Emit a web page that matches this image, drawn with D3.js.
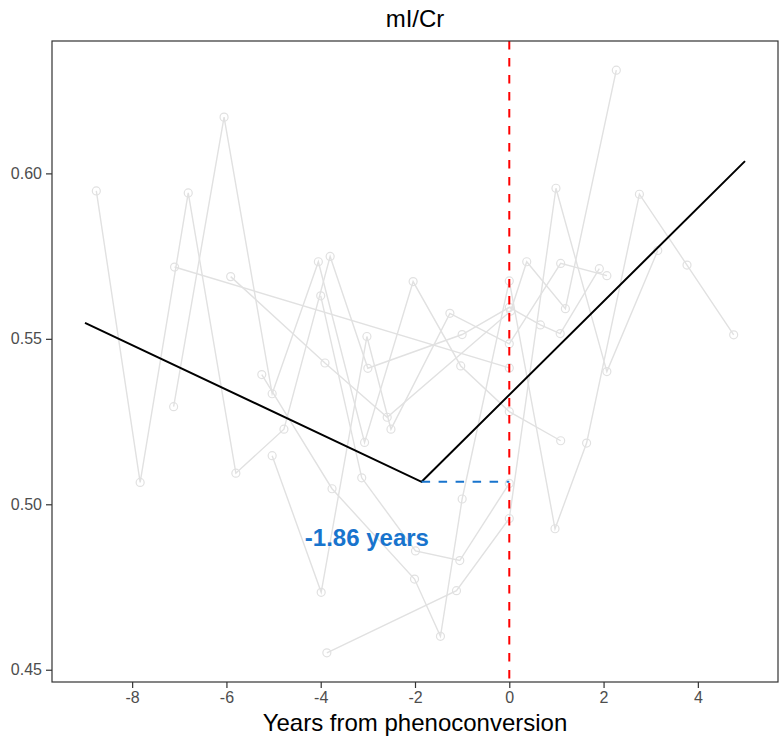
<!DOCTYPE html>
<html><head><meta charset="utf-8">
<script src="https://cdn.jsdelivr.net/npm/d3@7"></script>
<style>
body{margin:0;background:#fff;}
text{font-family:"Liberation Sans",Arial,Helvetica,sans-serif;}
</style>
</head><body>
<svg id="chart" width="780" height="743"></svg>
<script>
// ---------------- data ----------------
const chartTitle = "mI/Cr";
const xAxisTitle = "Years from phenoconversion";
const xTicks = [-8, -6, -4, -2, 0, 2, 4];
const xTickLabels = ["-8", "-6", "-4", "-2", "0", "2", "4"];
const yTicks = [0.45, 0.50, 0.55, 0.60];
const yTickLabels = ["0.45", "0.50", "0.55", "0.60"];

// individual trajectories (time from phenoconversion, mI/Cr)
const subjectIds = ["S1", "S2", "S3", "S4", "S5", "S6", "S7", "S8"];
const subjectTimes = [
  [-8.76, -7.83, -6.81, -5.80, -4.78, -3.80, -3.00, -1.00, 0.00, 0.66, 1.08, 1.91],
  [-7.12, -6.05, -5.03, -4.05, -3.07, -2.04, -1.03, 0.00, 1.09],
  [-5.91, -3.91, -2.59, 0.03, 0.37, 1.19, 2.27],
  [-4.00, -3.13, -1.99, -1.05, 0.00],
  [-5.25, -3.76, -2.01, -1.46, -1.00, 0.00, 0.97, 1.64, 2.76, 3.77, 4.76],
  [-5.03, -3.99, -3.02, -2.51, -1.26, 0.00, 1.09, 2.07],
  [-3.87, -1.12, 0.00, 0.99, 2.07, 3.15],
  [-7.10, 0.00]
];
const subjectValues = [
  [0.5947, 0.5066, 0.5941, 0.5094, 0.5227, 0.5749, 0.5411, 0.5513, 0.5595, 0.5542, 0.5516, 0.5712],
  [0.5295, 0.6170, 0.5334, 0.5733, 0.5187, 0.5673, 0.5418, 0.5280, 0.5192],
  [0.5688, 0.5427, 0.5263, 0.5584, 0.5733, 0.5591, 0.6312],
  [0.5630, 0.5080, 0.4859, 0.4830, 0.5063],
  [0.5392, 0.5047, 0.4774, 0.4601, 0.5016, 0.5675, 0.4926, 0.5185, 0.5937, 0.5723, 0.5512],
  [0.5147, 0.4734, 0.5507, 0.5227, 0.5577, 0.5485, 0.5728, 0.5691],
  [0.4551, 0.4739, 0.4957, 0.5955, 0.5401, 0.5767],
  [0.5717, 0.5412]
];

// piecewise-linear fit
const fitTimes = [-9.0, -1.86, 5.0];
const fitValues = [0.5548, 0.5068, 0.6037];
const changePoint = -1.86;
const changeLabel = "-1.86 years";
const labelPos = [-3.02, 0.4893];

// ---------------- layout ----------------
const W = 780, H = 743;
const panel = {left: 52, top: 41, right: 778, bottom: 682};

const allT = subjectTimes.flat().concat(fitTimes);
const allV = subjectValues.flat().concat(fitValues);
function expand(ext) { const r = ext[1] - ext[0]; return [ext[0] - 0.05 * r, ext[1] + 0.05 * r]; }

const x = d3.scaleLinear().domain(expand(d3.extent(allT))).range([panel.left, panel.right]);
const y = d3.scaleLinear().domain(expand(d3.extent(allV))).range([panel.bottom, panel.top]);

const svg = d3.select("#chart");
svg.append("rect").attr("width", W).attr("height", H).attr("fill", "#fff");

const gray = "#e1e1e1";
const line = d3.line().x(d => x(d[0])).y(d => y(d[1]));

const subjects = subjectIds.map((id, i) => ({id, pts: subjectTimes[i].map((t, j) => [t, subjectValues[i][j]])}));

const gData = svg.append("g");
gData.selectAll("path.subj").data(subjects).join("path")
  .attr("class", "subj")
  .attr("d", d => line(d.pts))
  .attr("fill", "none").attr("stroke", gray).attr("stroke-width", 1.4);

gData.selectAll("circle.pt").data(subjects.flatMap(s => s.pts)).join("circle")
  .attr("class", "pt")
  .attr("cx", d => x(d[0])).attr("cy", d => y(d[1])).attr("r", 4)
  .attr("fill", "none").attr("stroke", gray).attr("stroke-width", 1.2);

// fitted line
const fitPts = fitTimes.map((t, i) => [t, fitValues[i]]);
svg.append("path").attr("d", line(fitPts))
  .attr("fill", "none").attr("stroke", "#000").attr("stroke-width", 2);

// blue dashed horizontal from change point to 0
const cpVal = fitValues[1];
svg.append("path").attr("d", line([[changePoint, cpVal], [0, cpVal]]))
  .attr("fill", "none").attr("stroke", "#1874CD").attr("stroke-width", 2)
  .attr("stroke-dasharray", "8.5,8.5");

// red dashed vertical at 0
svg.append("line")
  .attr("x1", x(0)).attr("x2", x(0)).attr("y1", panel.top).attr("y2", panel.bottom)
  .attr("stroke", "#ff0000").attr("stroke-width", 2).attr("stroke-dasharray", "8.5,8.5");

// annotation
svg.append("text")
  .attr("x", x(labelPos[0])).attr("y", y(labelPos[1]))
  .attr("text-anchor", "middle").attr("dominant-baseline", "middle")
  .attr("font-size", 24).attr("font-weight", "bold").attr("fill", "#1874CD")
  .text(changeLabel);

// panel border
svg.append("rect")
  .attr("x", panel.left).attr("y", panel.top)
  .attr("width", panel.right - panel.left).attr("height", panel.bottom - panel.top)
  .attr("fill", "none").attr("stroke", "#333").attr("stroke-width", 1.2);

// axes
const xAxis = d3.axisBottom(x).tickValues(xTicks).tickFormat((d, i) => xTickLabels[i]).tickSize(6).tickPadding(4);
const gx = svg.append("g").attr("transform", `translate(0,${panel.bottom})`).call(xAxis);
gx.select(".domain").remove();
gx.selectAll(".tick line").attr("stroke", "#333").attr("stroke-width", 1.2);
gx.selectAll(".tick text").attr("font-size", 16).attr("fill", "#4d4d4d")
  .attr("font-family", "Liberation Sans, Arial, sans-serif");

const yAxis = d3.axisLeft(y).tickValues(yTicks).tickFormat((d, i) => yTickLabels[i]).tickSize(6).tickPadding(4);
const gy = svg.append("g").attr("transform", `translate(${panel.left},0)`).call(yAxis);
gy.select(".domain").remove();
gy.selectAll(".tick line").attr("stroke", "#333").attr("stroke-width", 1.2);
gy.selectAll(".tick text").attr("font-size", 16).attr("fill", "#4d4d4d")
  .attr("font-family", "Liberation Sans, Arial, sans-serif");

// titles
svg.append("text").attr("x", (panel.left + panel.right) / 2).attr("y", 27)
  .attr("text-anchor", "middle").attr("font-size", 24).attr("fill", "#000").text(chartTitle);
svg.append("text").attr("x", (panel.left + panel.right) / 2).attr("y", 731)
  .attr("text-anchor", "middle").attr("font-size", 24).attr("fill", "#000").text(xAxisTitle);
</script>
</body></html>
